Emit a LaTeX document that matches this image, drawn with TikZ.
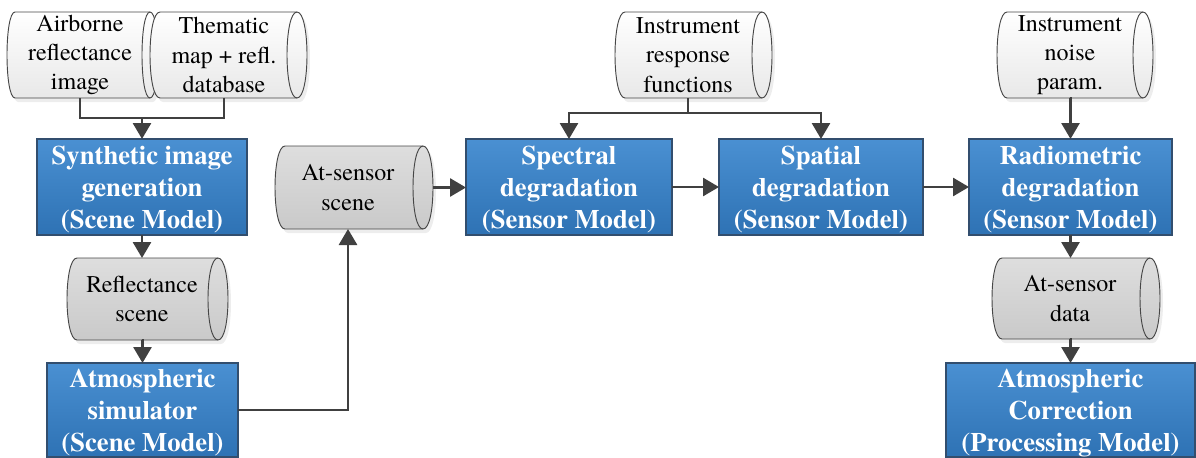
\documentclass[tikz,border=0pt]{standalone}
\usepackage{fontspec}
\setmainfont{texgyretermes}[Extension=.otf, UprightFont=*-regular, BoldFont=*-bold,
  ItalicFont=*-italic, BoldItalicFont=*-bolditalic]
\usetikzlibrary{arrows.meta,calc}

\definecolor{edge}{RGB}{64,64,64}
\definecolor{boxtop}{RGB}{74,144,210}
\definecolor{boxbot}{RGB}{46,114,180}
\definecolor{boxline}{RGB}{50,78,110}
\definecolor{cylline}{RGB}{70,70,70}

\tikzset{
  proc/.style={rectangle, draw=boxline, line width=0.9pt, top color=boxtop, bottom color=boxbot,
    text=white, font=\fontsize{20pt}{24pt}\selectfont\bfseries, align=center,
    inner sep=0pt, outer sep=0pt, text depth=0pt},
  store/.style={rectangle, inner sep=0pt, outer sep=0pt, align=center, text=black,
    font=\fontsize{18pt}{22pt}\selectfont},
  link/.style={draw=edge, line width=2.1pt},
  arr/.style={link, -{Triangle[width=13.5pt,length=12pt]}},
  lightcyl/.style={draw=cylline, line width=0.7pt, top color=white, bottom color=black!9},
  graycyl/.style={draw=cylline, line width=0.7pt, top color=black!13, bottom color=black!21},
  cylshade/.style={fill=black!7},
}

% horizontal data cylinder: style, left x, right x, top y, bottom y, end radius
\newcommand\cylbody[6]{%
  \path[#1] (#2,#4) -- (#3,#4)
    .. controls ({#3+1.333*#6},#4) and ({#3+1.333*#6},#5) .. (#3,#5)
    -- (#2,#5)
    .. controls ({#2-1.333*#6},#5) and ({#2-1.333*#6},#4) .. (#2,#4) -- cycle;
  \draw[cylline, line width=0.7pt] (#3,#4)
    .. controls ({#3-1.333*#6},#4) and ({#3-1.333*#6},#5) .. (#3,#5);
}
% soft drop shadow under a cylinder: left x, right x, top y, bottom y, end radius
\newcommand\cylshadow[5]{%
  \path[cylshade, shift={(3,4)}] (#1,#3) -- (#2,#3)
    .. controls ({#2+1.333*#5},#3) and ({#2+1.333*#5},#4) .. (#2,#4)
    -- (#1,#4)
    .. controls ({#1-1.333*#5},#4) and ({#1-1.333*#5},#3) .. (#1,#3) -- cycle;
}

\begin{document}
\begin{tikzpicture}[x=0.75pt, y=-0.75pt]
\useasboundingbox (0,0) rectangle (1196,457);

% shadows
\cylshadow{15}{150}{12}{98}{8}
\cylshadow{160}{297}{12}{98}{10}
\cylshadow{625}{762}{12}{98}{10}
\cylshadow{1007}{1143}{12}{98}{10}
\cylshadow{77}{218}{258}{340}{10}
\cylshadow{285}{423}{146}{229}{10}
\cylshadow{1002}{1150}{258}{339}{10}

% cylinder outlines
\cylbody{lightcyl}{15}{150}{12}{98}{8}
\cylbody{lightcyl}{160}{297}{12}{98}{10}
\cylbody{lightcyl}{625}{762}{12}{98}{10}
\cylbody{lightcyl}{1007}{1143}{12}{98}{10}
\cylbody{graycyl}{77}{218}{258}{340}{10}
\cylbody{graycyl}{285}{423}{146}{229}{10}
\cylbody{graycyl}{1002}{1150}{258}{339}{10}

% data stores
\node[store, minimum height=64.5pt] (air)   at (80,55)    {Airborne\\reflectance\\image};
\node[store, minimum height=64.5pt] (thm)   at (224,55)   {Thematic\\map + refl.\\database};
\node[store, minimum height=64.5pt] (irf)   at (688,55)   {Instrument\\response\\functions};
\node[store, minimum height=64.5pt] (noise) at (1070,55)  {Instrument\\noise\\param.};
\node[store, minimum height=61.5pt] (refl)  at (142,299)  {Reflectance\\scene};
\node[store, minimum height=62.25pt, minimum width=127.5pt] (ascene) at (348,187.5) {At-sensor\\scene};
\node[store, minimum height=60.75pt] (adata) at (1070,298.5) {At-sensor\\data};

% processing steps
\node[proc, minimum width=157.5pt, minimum height=72pt]   (syn)  at (142,187)    {Synthetic image\\generation\\(Scene Model)};
\node[proc, minimum width=143.25pt, minimum height=70.5pt] (atm)  at (142.5,410)  {Atmospheric\\simulator\\(Scene Model)};
\node[proc, minimum width=154.5pt, minimum height=72pt]   (spec) at (569,187)    {Spectral\\degradation\\(Sensor Model)};
\node[proc, minimum width=153pt, minimum height=72pt]     (spat) at (821,187)    {Spatial\\degradation\\(Sensor Model)};
\node[proc, minimum width=152.25pt, minimum height=72pt]  (rad)  at (1070.5,187) {Radiometric\\degradation\\(Sensor Model)};
\node[proc, minimum width=186.75pt, minimum height=70.5pt] (corr) at (1070.5,410) {Atmospheric\\Correction\\(Processing Model)};

% junctions
\coordinate (jin)  at (142,118);
\coordinate (jirf) at (688,113);

% connectors
\draw[link] (air.south) |- (jin) -| (thm.south);
\draw[arr] (jin) -- (syn.north);
\draw[arr] (syn.south) -- (syn.south |- refl.north);
\draw[arr] (refl.south) -- (refl.south -| atm.north) -- (atm.north);
\draw[arr] (atm.east) -| (ascene.south);
\draw[arr] (ascene.east) -- (ascene.east -| spec.west);
\draw[arr] (spec.east) -- (spat.west);
\draw[arr] (spat.east) -- (rad.west);
\draw[link] (irf.south) -- (jirf);
\draw[arr] (jirf) -| (spec.north);
\draw[arr] (jirf) -| (spat.north);
\draw[arr] (noise.south) -- (noise.south -| rad.north) -- (rad.north);
\draw[arr] (rad.south) -- (rad.south |- adata.north);
\draw[arr] (adata.south) -- (adata.south -| corr.north) -- (corr.north);
\end{tikzpicture}
\end{document}
